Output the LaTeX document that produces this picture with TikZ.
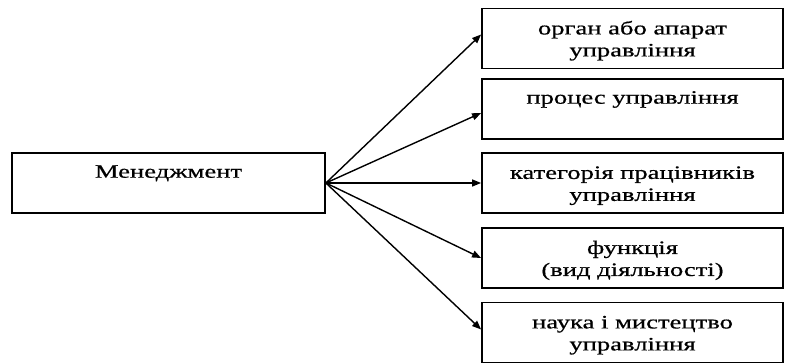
\documentclass[tikz,border=0pt]{standalone}
\usepackage{fontspec}
\setmainfont[FakeBold=0.5]{Liberation Serif}
\usetikzlibrary{arrows.meta}
% horizontally widened text; the first line carries a taller strut
\newcommand{\widetxt}[1]{\scalebox{1.4}[1]{#1}}
\newcommand{\firstline}[1]{\rule{0pt}{18pt}\widetxt{#1}}
\begin{document}
\begin{tikzpicture}[x=1pt,y=1pt,
  box/.style={draw=black, line width=1.8pt, inner sep=0pt, align=center,
    minimum height=60pt, font=\fontsize{19}{22}\selectfont},
  leftbox/.style={box, minimum width=313pt},
  rightbox/.style={box, minimum width=301pt},
  link/.style={line width=1.4pt, -{Triangle[length=9pt,width=7pt]}}]
\useasboundingbox (0,0) rectangle (785,363);
% source block on the left
\node[leftbox] (m) at (168.5,180) {\firstline{Менеджмент}\\\strut};
% meanings on the right
\node[rightbox] (b1) at (632.5,324.5) {\firstline{орган або апарат}\\\widetxt{управління}};
\node[rightbox] (b2) at (632.5,254) {\firstline{процес управління}\\\strut};
\node[rightbox] (b3) at (632.5,180) {\firstline{категорія працівників}\\\widetxt{управління}};
\node[rightbox] (b4) at (632.5,105) {\firstline{функція}\\\widetxt{(вид діяльності)}};
\node[rightbox] (b5) at (632.5,30.5) {\firstline{наука і мистецтво}\\\widetxt{управління}};
% fan of arrows
\draw[link] (m.east) -- ([yshift=4pt]b1.west);
\draw[link] (m.east) -- ([yshift=-4pt]b2.west);
\draw[link] (m.east) -- (b3.west);
\draw[link] (m.east) -- (b4.west);
\draw[link] (m.east) -- ([yshift=3pt]b5.west);
\end{tikzpicture}
\end{document}
